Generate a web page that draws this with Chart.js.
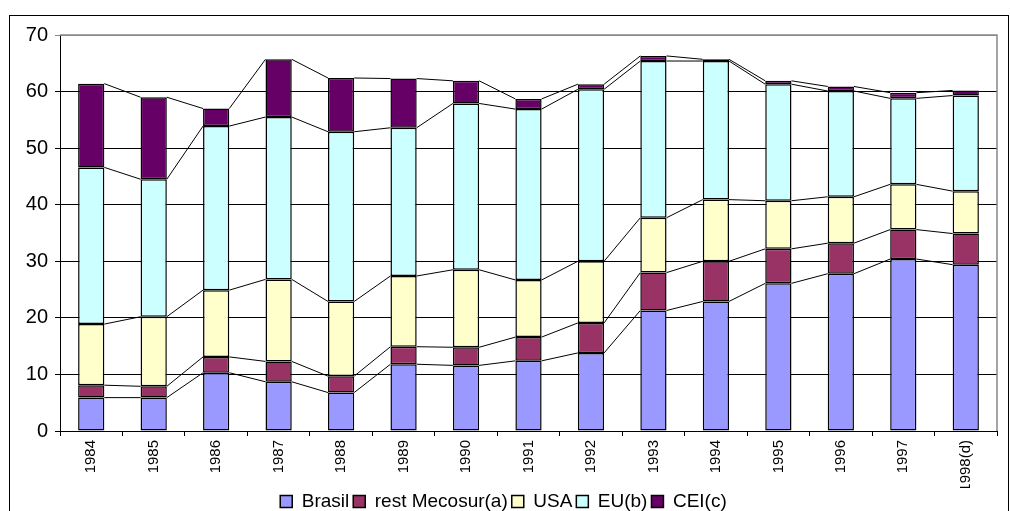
<!DOCTYPE html>
<html>
<head>
<meta charset="utf-8">
<script src="https://cdn.jsdelivr.net/npm/chart.js@4/dist/chart.umd.min.js"></script>
<style>
  html, body { margin: 0; padding: 0; background: #fff; overflow: hidden; }
  #frame {
    position: absolute; left: 9px; top: 15px;
    width: 998px; height: 510px;
    border: 1px solid #000; border-bottom: none;
  }
  #chartCanvas { display: block; }
</style>
</head>
<body>
<div id="frame">
  <canvas id="chartCanvas" width="998" height="505"></canvas>
</div>
<script>
// Categories and series
const years = ['1984', '1985', '1986', '1987', '1988', '1989', '1990', '1991',
               '1992', '1993', '1994', '1995', '1996', '1997', '1998(d)'];

const brasil       = [5.9, 5.9, 10.3, 8.7, 6.8, 11.8, 11.6, 12.4, 13.8, 21.3, 22.9, 26.1, 27.8, 30.4, 29.4];
const restMecosur  = [2.2, 2.0, 2.8, 3.6, 2.9, 3.1, 3.2, 4.2, 5.3, 6.7, 7.1, 6.1, 5.4, 5.2, 5.5];
const usa          = [10.8, 12.3, 11.8, 14.5, 13.2, 12.5, 13.7, 10.1, 10.9, 9.7, 10.9, 8.5, 8.2, 8.0, 7.5];
const eu           = [27.7, 24.3, 29.0, 28.7, 30.0, 26.2, 29.4, 30.2, 30.4, 27.7, 24.5, 20.6, 18.7, 15.2, 16.9];
const cei          = [14.8, 14.5, 3.1, 10.2, 9.5, 8.7, 4.0, 1.8, 0.9, 0.9, 0.3, 0.6, 0.8, 1.0, 0.9];

const yTicks = [0, 10, 20, 30, 40, 50, 60, 70];

const fontFamily = 'Arial, "Liberation Sans", sans-serif';

// Excel-style series lines joining the tops of the stacked segments
const seriesLines = {
  id: 'seriesLines',
  afterDatasetsDraw(chart) {
    const ctx = chart.ctx;
    ctx.save();
    ctx.strokeStyle = '#000';
    ctx.lineWidth = 1;
    chart.data.datasets.forEach((ds, i) => {
      const bars = chart.getDatasetMeta(i).data;
      for (let j = 0; j < bars.length - 1; j++) {
        const a = bars[j], b = bars[j + 1];
        ctx.beginPath();
        ctx.moveTo(a.x + a.width / 2, a.y);
        ctx.lineTo(b.x - b.width / 2, b.y);
        ctx.stroke();
      }
    });
    ctx.restore();
  }
};

// Gray border round the plot area (top and right)
const plotBorder = {
  id: 'plotBorder',
  beforeDatasetsDraw(chart) {
    const { ctx, chartArea } = chart;
    ctx.save();
    ctx.strokeStyle = '#888';
    ctx.lineWidth = 1.5;
    ctx.beginPath();
    ctx.moveTo(chartArea.left, chartArea.top);
    ctx.lineTo(chartArea.right, chartArea.top);
    ctx.lineTo(chartArea.right, chartArea.bottom);
    ctx.stroke();
    ctx.restore();
  }
};

function makeSet(label, data, color) {
  return {
    label: label,
    data: data,
    backgroundColor: color,
    borderColor: '#000',
    borderWidth: 1.5,
    borderSkipped: false,
    categoryPercentage: 1,
    barPercentage: 0.42
  };
}

const chartConfig = {
  type: 'bar',
  data: {
    labels: years,
    datasets: [
      makeSet('Brasil', brasil, '#9999FF'),
      makeSet('rest Mecosur(a)', restMecosur, '#993366'),
      makeSet('USA', usa, '#FFFFCC'),
      makeSet('EU(b)', eu, '#CCFFFF'),
      makeSet('CEI(c)', cei, '#660066')
    ]
  },
  options: {
    responsive: false,
    animation: false,
    layout: { padding: { top: 17, right: 11, bottom: 0, left: 0 } },
    plugins: {
      tooltip: { enabled: false },
      legend: {
        position: 'bottom',
        labels: {
          font: { family: fontFamily, size: 19 },
          color: '#000',
          boxWidth: 12,
          boxHeight: 12,
          padding: 4,
          useBorderRadius: false
        }
      }
    },
    scales: {
      x: {
        stacked: true,
        afterFit(scale) { scale.height = 57; },
        border: { color: '#000', width: 1 },
        grid: {
          offset: true,
          drawOnChartArea: false,
          drawTicks: true,
          tickLength: 5,
          color: '#000'
        },
        ticks: {
          minRotation: 90,
          maxRotation: 90,
          padding: 4,
          color: '#000',
          font: { family: fontFamily, size: 15 }
        }
      },
      y: {
        stacked: true,
        min: 0,
        max: 70,
        afterFit(scale) { scale.width = 50; },
        afterBuildTicks(scale) { scale.ticks = yTicks.map(v => ({ value: v })); },
        border: { color: '#000', width: 1 },
        grid: {
          color: (c) => (c.tick && c.tick.value === 70 ? '#888' : '#000'),
          lineWidth: 1,
          tickLength: 5
        },
        ticks: {
          padding: 7,
          color: '#000',
          font: { family: fontFamily, size: 20 }
        }
      }
    }
  },
  plugins: [plotBorder, seriesLines]
};

const chartCanvas = document.getElementById('chartCanvas');
const projectileChart = new Chart(chartCanvas.getContext('2d'), chartConfig);
</script>
</body>
</html>
